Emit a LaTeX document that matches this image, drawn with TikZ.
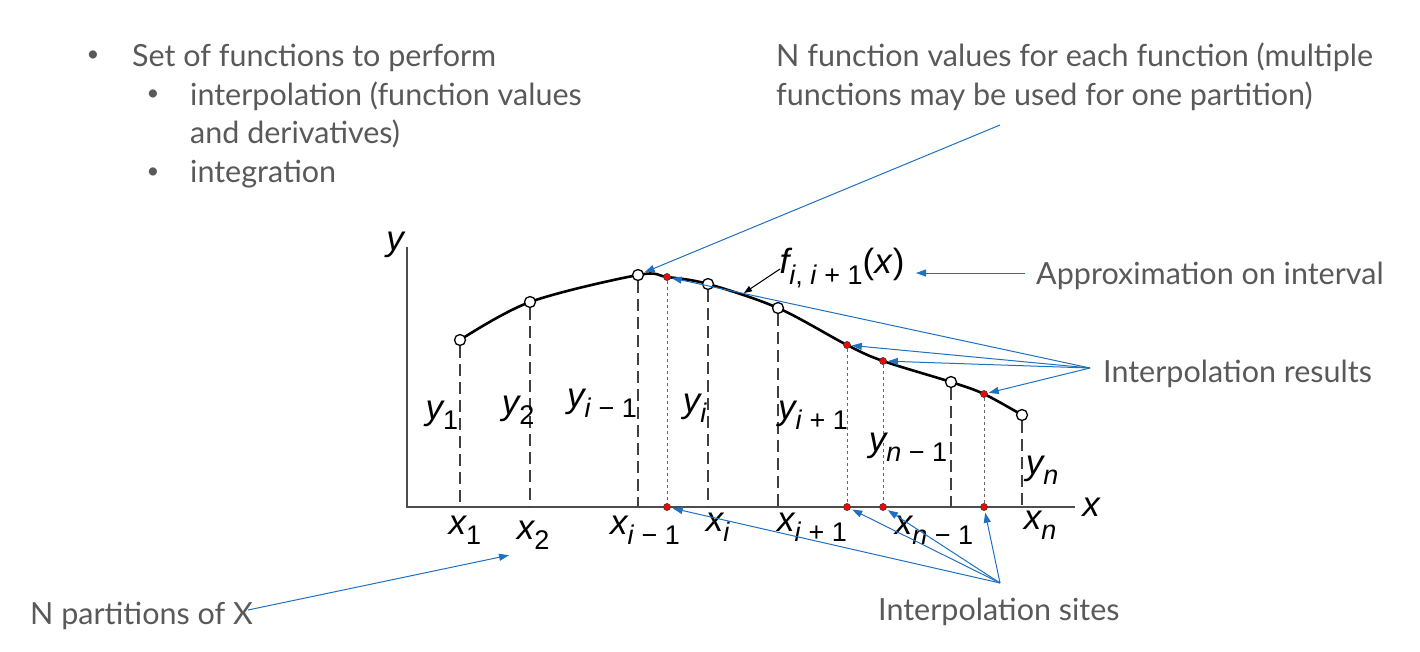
\documentclass[tikz,border=0pt]{standalone}
\usepackage{fontspec}
\setmainfont{Lato}
\newfontfamily\mlbl{Liberation Sans}
\usetikzlibrary{arrows.meta}
\definecolor{txtgray}{HTML}{595959}
\definecolor{annblue}{HTML}{1F70C1}
\definecolor{axgray}{HTML}{4D4D4D}
\newcommand{\lv}[2]{{\mlbl\itshape #1}\raisebox{-0.3em}{\fontsize{27}{30}\selectfont\mlbl #2}}
\begin{document}
\begin{tikzpicture}[x=1pt,y=-1pt,
  txt/.style={inner sep=0pt, anchor=base west, text=txtgray, font=\fontsize{30.5}{38}\selectfont},
  bul/.style={inner sep=0pt, text=txtgray, font=\fontsize{22}{26}\selectfont},
  lbl/.style={inner sep=0pt, font=\fontsize{35}{40}\selectfont},
  opendot/.style={circle, draw=black, fill=white, line width=1.3pt, minimum size=11pt, inner sep=0pt},
  reddot/.style={circle, draw=black!75, fill=red, line width=0.7pt, minimum size=7pt, inner sep=0pt},
  dashlong/.style={draw=black!75, line width=1.5pt, dash pattern=on 12pt off 6pt},
  dashshort/.style={draw=black!60, line width=0.8pt, dash pattern=on 3pt off 3pt},
  ann/.style={draw=annblue, line width=1pt, -{Triangle[length=10pt,width=7pt]}, shorten >=1pt},
]
\useasboundingbox (0,0) rectangle (1420,651);
% bullets
\node[bul] (b0) at (93,56) {•};
\node[txt] (t0) at (132,66) {Set of functions to perform};
\node[bul] (b1) at (153,95) {•};
\node[txt] (t1) at (190,105) {interpolation (function values};
\node[txt] (t2) at (190,143) {and derivatives)};
\node[bul] (b2) at (153,173) {•};
\node[txt] (t3) at (190,182) {integration};
% annotations text
\node[txt] (nf1) at (776,66) {N function values for each function (multiple};
\node[txt] (nf2) at (776,105) {functions may be used for one partition)};
\node[txt] (appr) at (1036,284) {Approximation on interval};
\node[txt] (ires) at (1103,382) {Interpolation results};
\node[txt] (isit) at (878,620) {Interpolation sites};
\node[txt] (npar) at (30,624) {N partitions of X};
% axes
\coordinate (o) at (407,507);
\draw[axgray, line width=2pt] (407,247) -- (o) -- (1075,507);
\node[lbl] (ylab) at (395,245) {\mlbl\itshape y};
\node[lbl] (xlab) at (1091,507) {\mlbl\itshape x};
% curve
\draw[line width=2.6pt] plot[smooth, tension=0.55] coordinates {(460,340) (530,302) (638,275) (667,277) (708,284) (778,308) (847,345) (883,361) (951,382) (984,394) (1022,415)};
% points
\node[opendot] (p1) at (460,340) {};
\node[opendot] (p2) at (530,302) {};
\node[opendot] (pim) at (638,275) {};
\node[opendot] (pi) at (708,284) {};
\node[opendot] (pip) at (778,308) {};
\node[opendot] (pnm) at (951,382) {};
\node[opendot] (pn) at (1022,415) {};
\node[reddot] (r1) at (667,277) {};
\node[reddot] (r2) at (847,345) {};
\node[reddot] (r3) at (883,361) {};
\node[reddot] (r4) at (984,394) {};
% dashed
\foreach \p in {p1,p2,pim,pi,pip,pnm,pn} \draw[dashlong] (\p.south) -- (\p |- o);
\foreach \r in {r1,r2,r3,r4} \draw[dashshort] (\r.south) -- (\r |- o);
\node[reddot] (s1) at (r1 |- o) {};
\node[reddot] (s2) at (r2 |- o) {};
\node[reddot] (s3) at (r3 |- o) {};
\node[reddot] (s4) at (r4 |- o) {};
% labels
\node[lbl] (ly1) at (442,415) {\lv{y}{1}};
\node[lbl] (ly2) at (518,410) {\lv{y}{2}};
\node[lbl] (lyim) at (602,403) {\lv{y}{\textit{i} − 1}};
\node[lbl] (lyi) at (695,408) {\lv{y}{\textit{i}}};
\node[lbl] (lyip) at (813,415) {\lv{y}{\textit{i} + 1}};
\node[lbl] (lynm) at (908,447) {\lv{y}{\textit{n} − 1}};
\node[lbl] (lyn) at (1042,470) {\lv{y}{\textit{n}}};
\node[lbl] (lx1) at (465,530) {\lv{x}{1}};
\node[lbl] (lx2) at (533,535) {\lv{x}{2}};
\node[lbl] (lxim) at (645,530) {\lv{x}{\textit{i} − 1}};
\node[lbl] (lxi) at (718,527) {\lv{x}{\textit{i}}};
\node[lbl] (lxip) at (812,527) {\lv{x}{\textit{i} + 1}};
\node[lbl] (lxnm) at (934,530) {\lv{x}{\textit{n} − 1}};
\node[lbl] (lxn) at (1040,525) {\lv{x}{\textit{n}}};
\node[lbl] (lf) at (842,268) {\lv{f}{\textit{i}, \textit{i} + 1}{\mlbl(\textit{x})}};
% black pointer
\coordinate (fptr) at (780,269);
\coordinate (fcur) at (744,293);
\draw[line width=1pt, -{Triangle[length=8pt,width=6pt]}] (fptr) -- (fcur);
% blue annotations
\coordinate (nfroot) at (1000,125);
\draw[ann] (nfroot) -- (pim);
\coordinate (aproot) at (1025,273);
\coordinate (aptip) at (915,273);
\draw[ann] (aproot) -- (aptip);
\coordinate (rroot) at (1090,368);
\foreach \r in {r1,r2,r3,r4} \draw[ann] (rroot) -- (\r);
\coordinate (sroot) at (1000,583);
\foreach \s in {s1,s2,s3,s4} \draw[ann, shorten >=2pt] (sroot) -- (\s);
\coordinate (proot) at (248,610);
\coordinate (ptip) at (510,555);
\draw[ann] (proot) -- (ptip);
\end{tikzpicture}
\end{document}
